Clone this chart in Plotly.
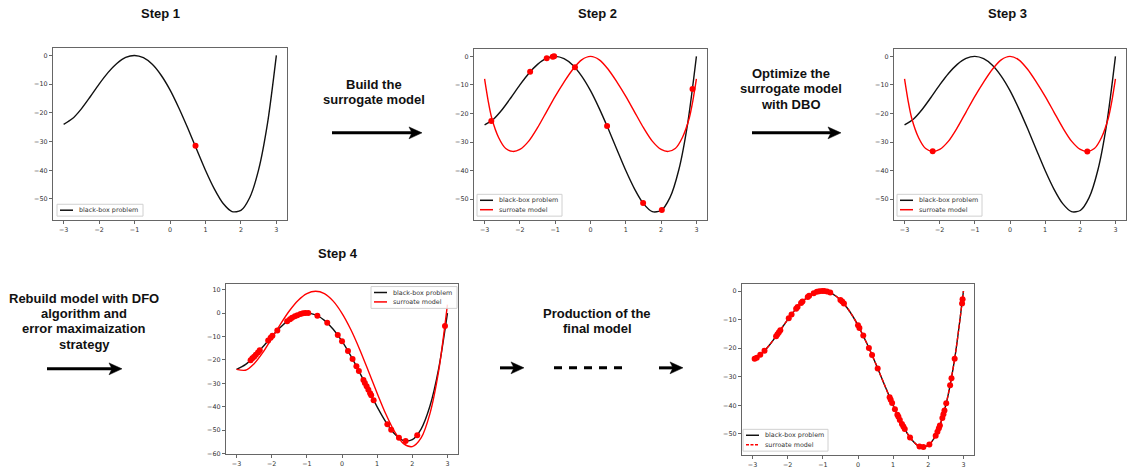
import plotly.graph_objects as go

W, H = 1127, 472

# ---- data -------------------------------------------------------------
# sample grid of the design variable
x_grid = [-3.0, -2.75, -2.5, -2.25, -2.0, -1.75, -1.5, -1.25, -1.0, -0.75, -0.5, -0.25,
          0.0, 0.25, 0.5, 0.75, 1.0, 1.25, 1.5, 1.75, 2.0, 2.25, 2.5, 2.75, 3.0]

# black-box objective
black_box = [-24.0, -22.0, -18.6, -14.4, -10.0, -6.0, -2.8, -0.7, 0.0, -0.8, -3.1, -6.9,
             -12.0, -18.3, -25.3, -32.7, -40.0, -46.5, -51.6, -54.4, -54.0, -49.5, -39.8, -23.7, 0.0]

# first surrogate (steps 2 and 3)
surrogate_x = [-3.0, -2.9, -2.8, -2.6, -2.4, -2.2, -2.0, -1.75, -1.5, -1.25, -1.0, -0.75, -0.5, -0.25,
               0.0, 0.25, 0.5, 0.75, 1.0, 1.25, 1.5, 1.75, 2.0, 2.2, 2.4, 2.6, 2.8, 2.9, 3.0]
surrogate_initial = [-7.9, -15.5, -21.5, -28.5, -32.3, -33.3, -32.6, -29.7, -25.0, -19.5, -14.0, -9.0, -4.5, -1.2,
                     0.0, -1.2, -4.5, -9.0, -14.0, -19.5, -25.0, -29.7, -32.6, -33.3, -32.3, -28.5, -21.5, -15.5, -7.9]

# rebuilt surrogate (step 4)
surrogate_rebuilt = [-24.0, -24.4, -21.6, -16.8, -10.8, -4.7, 0.9, 5.4, 8.3, 9.3, 8.3, 5.1,
                     -0.1, -7.0, -15.4, -24.7, -34.2, -43.2, -50.7, -55.7, -57.0, -53.3, -43.0, -24.7, 3.6]

# final surrogate (coincides with the black-box objective)
final_model = [-24.0, -22.0, -18.6, -14.4, -10.0, -6.0, -2.8, -0.7, 0.0, -0.8, -3.1, -6.9,
               -12.0, -18.3, -25.3, -32.7, -40.0, -46.5, -51.6, -54.4, -54.0, -49.5, -39.8, -23.7, 0.0]

# sampled points
step1_x = [0.72]
step1_y = [-31.5]

step2_x = [-2.81, -1.71, -1.24, -1.07, -1.03, -0.44, 0.47, 1.49, 2.02, 2.89]
step2_y = [-22.6, -5.4, -0.7, -0.1, 0.0, -3.8, -24.4, -51.4, -53.8, -11.4]

step3_x = [-2.2, 2.2]
step3_y = [-33.2, -33.3]

step4_x = [-2.60, -2.55, -2.50, -2.45, -2.39, -2.34, -2.10, -2.03, -1.98, -1.84, -1.56, -1.48,
           -1.42, -1.34, -1.27, -1.18, -1.11, -1.04, -0.96, -0.70, -0.42, -0.12, 0.0, 0.17,
           0.30, 0.41, 0.48, 0.61, 0.65, 0.70, 0.75, 0.80, 0.83, 0.90, 1.29, 1.40, 1.62, 1.81,
           2.14, 2.93]
step4_y = [-20.1, -19.3, -18.6, -17.8, -16.8, -15.9, -11.7, -10.5, -9.7, -7.4, -3.5, -2.6,
           -2.0, -1.3, -0.9, -0.4, -0.1, 0.0, 0.0, -1.1, -4.1, -9.4, -12.0, -16.2,
           -19.6, -22.7, -24.7, -28.6, -29.8, -31.2, -32.7, -34.2, -35.1, -37.2, -47.4, -49.8, -53.2, -54.6,
           -52.1, -5.5]

step5_x = [-2.94, -2.88, -2.78, -2.66, -2.33, -2.29, -2.25, -2.21, -1.97, -1.89, -1.76, -1.72,
           -1.62, -1.58, -1.43, -1.39, -1.26, -1.17, -1.10, -1.02, -0.96, -0.88, -0.79, -0.50,
           -0.45, -0.40, 0.0, 0.04, 0.15, 0.31, 0.40, 0.56, 0.90, 0.93, 0.97, 1.05, 1.12, 1.15,
           1.19, 1.25, 1.29, 1.33, 1.48, 1.75, 1.86, 2.03, 2.21, 2.26, 2.30, 2.33, 2.40, 2.43,
           2.46, 2.51, 2.62, 2.66, 2.75, 2.96, 2.975]
step5_y = [-23.7, -23.3, -22.3, -20.9, -15.8, -15.1, -14.4, -13.7, -9.5, -8.2, -6.2, -5.6,
           -4.2, -3.7, -2.1, -1.7, -0.8, -0.3, -0.1, 0.0, 0.0, -0.2, -0.5, -3.1,
           -3.7, -4.4, -12.0, -12.9, -15.6, -19.9, -22.4, -27.1, -37.2, -38.0, -39.2, -41.4, -43.3, -44.0,
           -45.1, -46.5, -47.4, -48.3, -51.2, -54.4, -54.6, -53.7, -50.6, -49.2, -48.0, -47.0, -44.4, -43.1,
           -41.8, -39.3, -33.0, -30.5, -23.7, -4.4, -2.9]

x_ticks = [-3, -2, -1, 0, 1, 2, 3]
y_ticks = [0, -10, -20, -30, -40, -50]
y_ticks_step4 = [10, 0, -10, -20, -30, -40, -50, -60]

BLACK_NAME = "black-box problem"
SURR_NAME = "surroate model"

# ---- helpers -----------------------------------------------------------
def px(x):
    return x / W


def py(y):
    return 1 - y / H


BLACK = "#111111"
RED = "#ff0000"
FRAME = "#666666"
TICK_FONT = dict(family="DejaVu Sans", size=6.4, color="#333333")
LEG_FONT = dict(family="DejaVu Sans", size=6.4, color="#333333")

# axis boxes in pixels: (left, right, top, bottom)
panels = {
    1: dict(box=(53, 287, 48, 222), yr=[-57.37, 2.73], yt=y_ticks),
    2: dict(box=(474, 707, 49, 222), yr=[-57.37, 2.73], yt=y_ticks),
    3: dict(box=(894, 1126, 49, 222), yr=[-57.37, 2.73], yt=y_ticks),
    4: dict(box=(226, 458, 286, 458), yr=[-60.2, 12.6], yt=y_ticks_step4),
    5: dict(box=(742, 974, 286, 459), yr=[-57.4, 2.6], yt=y_ticks),
}

fig = go.Figure()
layout = dict(
    width=W, height=H,
    margin=dict(l=0, r=0, t=0, b=0),
    paper_bgcolor="white", plot_bgcolor="white",
    showlegend=False,
)

for i, p in panels.items():
    s = "" if i == 1 else str(i)
    x0, x1, y0, y1 = p["box"]
    common = dict(showline=True, mirror=True, linecolor=FRAME, linewidth=1.2,
                  ticks="outside", ticklen=3, tickwidth=1, tickcolor=FRAME,
                  tickfont=TICK_FONT, showgrid=False, zeroline=False, fixedrange=True)
    layout["xaxis" + s] = dict(domain=[px(x0), px(x1)], anchor="y" + s, range=[-3.3, 3.3],
                               tickvals=x_ticks, **common)
    layout["yaxis" + s] = dict(domain=[py(y1), py(y0)], anchor="x" + s, range=p["yr"],
                               tickvals=p["yt"], **common)


def add_line(i, x, y, name, color, dash="solid"):
    s = "" if i == 1 else str(i)
    fig.add_trace(go.Scatter(
        x=x, y=y, mode="lines", name=name,
        line=dict(color=color, width=1.4, dash=dash, shape="spline", smoothing=0.8),
        xaxis="x" + s, yaxis="y" + s, hoverinfo="skip"))


def add_points(i, x, y):
    s = "" if i == 1 else str(i)
    fig.add_trace(go.Scatter(
        x=x, y=y, mode="markers", marker=dict(color=RED, size=6),
        xaxis="x" + s, yaxis="y" + s, hoverinfo="skip"))


# Step 1
add_line(1, x_grid, black_box, BLACK_NAME, BLACK)
add_points(1, step1_x, step1_y)
# Step 2
add_line(2, x_grid, black_box, BLACK_NAME, BLACK)
add_line(2, surrogate_x, surrogate_initial, SURR_NAME, RED)
add_points(2, step2_x, step2_y)
# Step 3
add_line(3, x_grid, black_box, BLACK_NAME, BLACK)
add_line(3, surrogate_x, surrogate_initial, SURR_NAME, RED)
add_points(3, step3_x, step3_y)
# Step 4
add_line(4, x_grid, black_box, BLACK_NAME, BLACK)
add_line(4, x_grid, surrogate_rebuilt, SURR_NAME, RED)
add_points(4, step4_x, step4_y)
# Final model
add_line(5, x_grid, black_box, BLACK_NAME, BLACK)
add_line(5, x_grid, final_model, SURR_NAME, RED, dash="4px,2px")
add_points(5, step5_x, step5_y)

shapes = []
annotations = []

# ---- per-panel legends (box, key line, label) --------------------------
def legend(left, top, right, bottom, entries):
    shapes.append(dict(type="rect", xref="paper", yref="paper",
                       x0=px(left), x1=px(right), y0=py(bottom), y1=py(top),
                       fillcolor="rgba(255,255,255,0.85)", line=dict(color="#d0d0d0", width=1)))
    for name, color, dash, yc in entries:
        shapes.append(dict(type="line", xref="paper", yref="paper",
                           x0=px(left + 3), x1=px(left + 16), y0=py(yc), y1=py(yc),
                           line=dict(color=color, width=1.5, dash=dash)))
        annotations.append(dict(text=name, x=px(left + 20), y=py(yc), xref="paper", yref="paper",
                                showarrow=False, xanchor="left", yanchor="middle",
                                font=LEG_FONT))


legend(57, 206, 143, 218, [(BLACK_NAME, BLACK, "solid", 212)])
legend(477, 196, 562, 218, [(BLACK_NAME, BLACK, "solid", 202), (SURR_NAME, RED, "solid", 211.5)])
legend(897, 196, 982, 218, [(BLACK_NAME, BLACK, "solid", 202), (SURR_NAME, RED, "solid", 211.5)])
legend(371, 289, 457, 311, [(BLACK_NAME, BLACK, "solid", 295), (SURR_NAME, RED, "solid", 304.5)])
legend(743, 433, 828, 455, [(BLACK_NAME, BLACK, "solid", 439), (SURR_NAME, RED, "3px,1.5px", 448.5)])

# ---- text --------------------------------------------------------------
TXT = dict(family="Liberation Sans, Arial, sans-serif", size=13, color="#111111")
texts = [
    ("Step 1", 160, 14),
    ("Step 2", 597, 14),
    ("Step 3", 1007, 14),
    ("Step 4", 338, 256),
    ("Build the", 374, 85),
    ("surrogate model", 374, 100),
    ("Optimize the", 791, 74),
    ("surrogate model", 791, 89),
    ("with DBO", 791, 105),
    ("Rebuild model with DFO", 84, 301),
    ("algorithm and", 84, 316),
    ("error maximaization", 84, 331),
    ("strategy", 84, 347),
    ("Production of the", 597, 316),
    ("final model", 597, 331),
]
for t, x, y in texts:
    annotations.append(dict(text="<b>" + t + "</b>", x=px(x), y=py(y), xref="paper", yref="paper",
                            showarrow=False, xanchor="center", yanchor="middle", font=TXT))

# ---- arrows ------------------------------------------------------------
def arrow(x0, x1, y):
    shapes.append(dict(type="line", xref="paper", yref="paper",
                       x0=px(x0), x1=px(x1 - 9), y0=py(y), y1=py(y),
                       line=dict(color="black", width=3)))
    pts = [(x1, y), (x1 - 13, y - 6), (x1 - 10, y), (x1 - 13, y + 6)]
    path = "M " + " L ".join(f"{px(a):.5f},{py(b):.5f}" for a, b in pts) + " Z"
    shapes.append(dict(type="path", xref="paper", yref="paper", path=path,
                       fillcolor="black", line=dict(color="black", width=0.5)))


arrow(332, 422, 134)
arrow(752, 841, 134)
arrow(47, 122, 372)
arrow(500, 524, 371)
arrow(659, 683, 371)
shapes.append(dict(type="line", xref="paper", yref="paper",
                   x0=px(554), x1=px(623), y0=py(371), y1=py(371),
                   line=dict(color="black", width=3, dash="8px,7px")))

layout["shapes"] = shapes
layout["annotations"] = annotations
fig.update_layout(**layout)
fig.write_html("out.html")
